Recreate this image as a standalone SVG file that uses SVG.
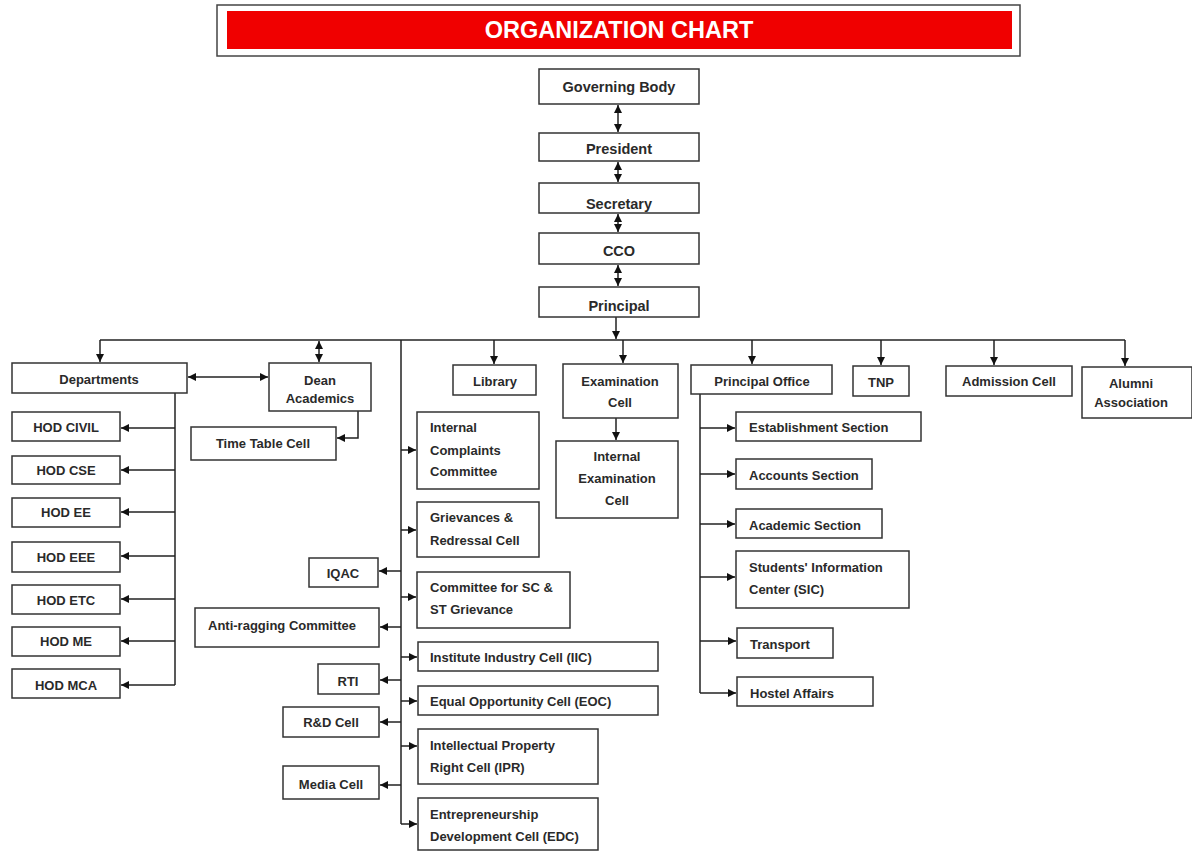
<svg xmlns="http://www.w3.org/2000/svg" width="1192" height="852" viewBox="0 0 1192 852">
<style>
.b{fill:#fff;stroke:#333;stroke-width:1.5}
.t{font-family:"Liberation Sans",Arial,sans-serif;font-weight:bold;font-size:13px;fill:#2a2a2a}
.s{font-size:14.5px}
.c{text-anchor:middle}
.l{fill:none;stroke:#222;stroke-width:1.5}
</style>
<defs>
<marker id="a" markerUnits="userSpaceOnUse" markerWidth="10" markerHeight="10" refX="8" refY="4" orient="auto-start-reverse"><path d="M0,0 L8,4 L0,8 z" fill="#111"/></marker>
</defs>
<rect width="1192" height="852" fill="#fff"/>
<g id="title">
<rect x="217" y="5" width="803" height="51" fill="#fff" stroke="#444" stroke-width="1.5"/>
<rect x="227" y="11" width="785" height="38" fill="#f00000"/>
<text x="619" y="38" text-anchor="middle" font-family="Liberation Sans,Arial,sans-serif" font-weight="bold" font-size="23.5" fill="#fff">ORGANIZATION CHART</text>
</g>
<g id="connectors">
<path class="l" d="M618 105 V132" marker-start="url(#a)" marker-end="url(#a)"/>
<path class="l" d="M618 162 V182" marker-start="url(#a)" marker-end="url(#a)"/>
<path class="l" d="M618 214 V232" marker-start="url(#a)" marker-end="url(#a)"/>
<path class="l" d="M618 265 V286" marker-start="url(#a)" marker-end="url(#a)"/>
<path class="l" d="M616 317 V339"/>
<path d="M612 331 L616 339 L620 331 z" fill="#111"/>
<path class="l" d="M100 340 H1125"/>
<path class="l" d="M100 340 V362" marker-end="url(#a)"/>
<path class="l" d="M494 340 V364" marker-end="url(#a)"/>
<path class="l" d="M623 340 V363" marker-end="url(#a)"/>
<path class="l" d="M752 340 V364" marker-end="url(#a)"/>
<path class="l" d="M881 340 V365" marker-end="url(#a)"/>
<path class="l" d="M994 340 V365" marker-end="url(#a)"/>
<path class="l" d="M1125 340 V366" marker-end="url(#a)"/>
<path class="l" d="M319 341 V362" marker-start="url(#a)" marker-end="url(#a)"/>
<path class="l" d="M188 377 H268" marker-start="url(#a)" marker-end="url(#a)"/>
<path class="l" d="M401 340 V824"/>
<path class="l" d="M175 393 V685"/>
<path class="l" d="M175 428 H121" marker-end="url(#a)"/>
<path class="l" d="M175 470 H121" marker-end="url(#a)"/>
<path class="l" d="M175 512 H121" marker-end="url(#a)"/>
<path class="l" d="M175 556 H121" marker-end="url(#a)"/>
<path class="l" d="M175 599 H121" marker-end="url(#a)"/>
<path class="l" d="M175 641 H121" marker-end="url(#a)"/>
<path class="l" d="M175 685 H121" marker-end="url(#a)"/>
<path class="l" d="M358 411 V438 H337" marker-end="url(#a)"/>
<path class="l" d="M616 418 V440" marker-end="url(#a)"/>
<path class="l" d="M401 450 H416" marker-end="url(#a)"/>
<path class="l" d="M401 530 H416" marker-end="url(#a)"/>
<path class="l" d="M401 597 H416" marker-end="url(#a)"/>
<path class="l" d="M401 657 H417" marker-end="url(#a)"/>
<path class="l" d="M401 701 H417" marker-end="url(#a)"/>
<path class="l" d="M401 746 H417" marker-end="url(#a)"/>
<path class="l" d="M401 824 H417" marker-end="url(#a)"/>
<path class="l" d="M401 571 H379" marker-end="url(#a)"/>
<path class="l" d="M401 627 H380" marker-end="url(#a)"/>
<path class="l" d="M401 680 H380" marker-end="url(#a)"/>
<path class="l" d="M401 722 H380" marker-end="url(#a)"/>
<path class="l" d="M401 785 H380" marker-end="url(#a)"/>
<path class="l" d="M700 394 V693"/>
<path class="l" d="M700 428 H735" marker-end="url(#a)"/>
<path class="l" d="M700 474 H735" marker-end="url(#a)"/>
<path class="l" d="M700 524 H735" marker-end="url(#a)"/>
<path class="l" d="M700 577 H735" marker-end="url(#a)"/>
<path class="l" d="M700 641 H736" marker-end="url(#a)"/>
<path class="l" d="M700 693 H736" marker-end="url(#a)"/>
</g>
<g id="governing-body"><rect class="b" x="539" y="69" width="160" height="35"/><text class="t s c" x="619" y="92">Governing Body</text></g>
<g id="president"><rect class="b" x="539" y="133" width="160" height="28"/><text class="t s c" x="619" y="154">President</text></g>
<g id="secretary"><rect class="b" x="539" y="183" width="160" height="30"/><text class="t s c" x="619" y="209">Secretary</text></g>
<g id="cco"><rect class="b" x="539" y="233" width="160" height="31"/><text class="t s c" x="619" y="256">CCO</text></g>
<g id="principal"><rect class="b" x="539" y="287" width="160" height="30"/><text class="t s c" x="619" y="311">Principal</text></g>
<g id="departments"><rect class="b" x="12" y="363" width="175" height="30"/><text class="t c" x="99" y="384">Departments</text></g>
<g id="dean-academics"><rect class="b" x="269" y="363" width="102" height="48"/><text class="t c" x="320" y="385">Dean</text><text class="t c" x="320" y="403">Academics</text></g>
<g id="time-table-cell"><rect class="b" x="191" y="427" width="145" height="33"/><text class="t c" x="263" y="448">Time Table Cell</text></g>
<g id="hod-civil"><rect class="b" x="12" y="412" width="108" height="29"/><text class="t c" x="66" y="432">HOD CIVIL</text></g>
<g id="hod-cse"><rect class="b" x="12" y="456" width="108" height="28"/><text class="t c" x="66" y="475">HOD CSE</text></g>
<g id="hod-ee"><rect class="b" x="12" y="498" width="108" height="29"/><text class="t c" x="66" y="517">HOD EE</text></g>
<g id="hod-eee"><rect class="b" x="12" y="542" width="108" height="30"/><text class="t c" x="66" y="562">HOD EEE</text></g>
<g id="hod-etc"><rect class="b" x="12" y="585" width="108" height="29"/><text class="t c" x="66" y="605">HOD ETC</text></g>
<g id="hod-me"><rect class="b" x="12" y="627" width="108" height="29"/><text class="t c" x="66" y="646">HOD ME</text></g>
<g id="hod-mca"><rect class="b" x="12" y="669" width="108" height="29"/><text class="t c" x="66" y="690">HOD MCA</text></g>
<g id="library"><rect class="b" x="453" y="365" width="83" height="30"/><text class="t c" x="495" y="386">Library</text></g>
<g id="examination-cell"><rect class="b" x="563" y="364" width="115" height="54"/><text class="t c" x="620" y="386">Examination</text><text class="t c" x="620" y="407" font-size="15.5">Cell</text></g>
<g id="internal-examination-cell"><rect class="b" x="556" y="441" width="122" height="77"/><text class="t c" x="617" y="461">Internal</text><text class="t c" x="617" y="483">Examination</text><text class="t c" x="617" y="505">Cell</text></g>
<g id="icc"><rect class="b" x="417" y="412" width="122" height="77"/><text class="t" x="430" y="432">Internal</text><text class="t" x="430" y="455">Complaints</text><text class="t" x="430" y="476">Committee</text></g>
<g id="grievances"><rect class="b" x="417" y="502" width="122" height="55"/><text class="t" x="430" y="522">Grievances &amp;</text><text class="t" x="430" y="545">Redressal Cell</text></g>
<g id="sc-st"><rect class="b" x="417" y="572" width="153" height="56"/><text class="t" x="430" y="592">Committee for SC &amp;</text><text class="t" x="430" y="614">ST Grievance</text></g>
<g id="iic"><rect class="b" x="418" y="642" width="240" height="29"/><text class="t" x="430" y="662">Institute Industry Cell (IIC)</text></g>
<g id="eoc"><rect class="b" x="418" y="686" width="240" height="29"/><text class="t" x="430" y="706">Equal Opportunity Cell (EOC)</text></g>
<g id="ipr"><rect class="b" x="418" y="729" width="180" height="55"/><text class="t" x="430" y="750">Intellectual Property</text><text class="t" x="430" y="772">Right Cell (IPR)</text></g>
<g id="edc"><rect class="b" x="418" y="798" width="180" height="52"/><text class="t" x="430" y="819">Entrepreneurship</text><text class="t" x="430" y="841">Development Cell (EDC)</text></g>
<g id="iqac"><rect class="b" x="309" y="558" width="69" height="29"/><text class="t c" x="343" y="578">IQAC</text></g>
<g id="anti-ragging"><rect class="b" x="195" y="608" width="184" height="39"/><text class="t" x="208" y="630">Anti-ragging Committee</text></g>
<g id="rti"><rect class="b" x="318" y="664" width="61" height="30"/><text class="t c" x="348" y="686">RTI</text></g>
<g id="rnd-cell"><rect class="b" x="283" y="707" width="96" height="30"/><text class="t c" x="331" y="727">R&amp;D Cell</text></g>
<g id="media-cell"><rect class="b" x="283" y="766" width="96" height="33"/><text class="t c" x="331" y="789">Media Cell</text></g>
<g id="principal-office"><rect class="b" x="691" y="365" width="141" height="29"/><text class="t c" x="762" y="386">Principal Office</text></g>
<g id="tnp"><rect class="b" x="853" y="366" width="56" height="30"/><text class="t c" x="881" y="387">TNP</text></g>
<g id="admission-cell"><rect class="b" x="946" y="366" width="126" height="30"/><text class="t c" x="1009" y="386">Admission Cell</text></g>
<g id="alumni-association"><rect class="b" x="1082" y="367" width="110" height="51"/><text class="t c" x="1131" y="388">Alumni</text><text class="t c" x="1131" y="407">Association</text></g>
<g id="establishment-section"><rect class="b" x="736" y="412" width="185" height="29"/><text class="t" x="749" y="432">Establishment Section</text></g>
<g id="accounts-section"><rect class="b" x="736" y="459" width="136" height="30"/><text class="t" x="749" y="480">Accounts Section</text></g>
<g id="academic-section"><rect class="b" x="736" y="509" width="146" height="29"/><text class="t" x="749" y="530">Academic Section</text></g>
<g id="sic"><rect class="b" x="736" y="551" width="173" height="57"/><text class="t" x="749" y="572">Students' Information</text><text class="t" x="749" y="594">Center (SIC)</text></g>
<g id="transport"><rect class="b" x="737" y="628" width="96" height="30"/><text class="t" x="750" y="649">Transport</text></g>
<g id="hostel-affairs"><rect class="b" x="737" y="677" width="136" height="29"/><text class="t" x="750" y="698">Hostel Affairs</text></g>
</svg>
